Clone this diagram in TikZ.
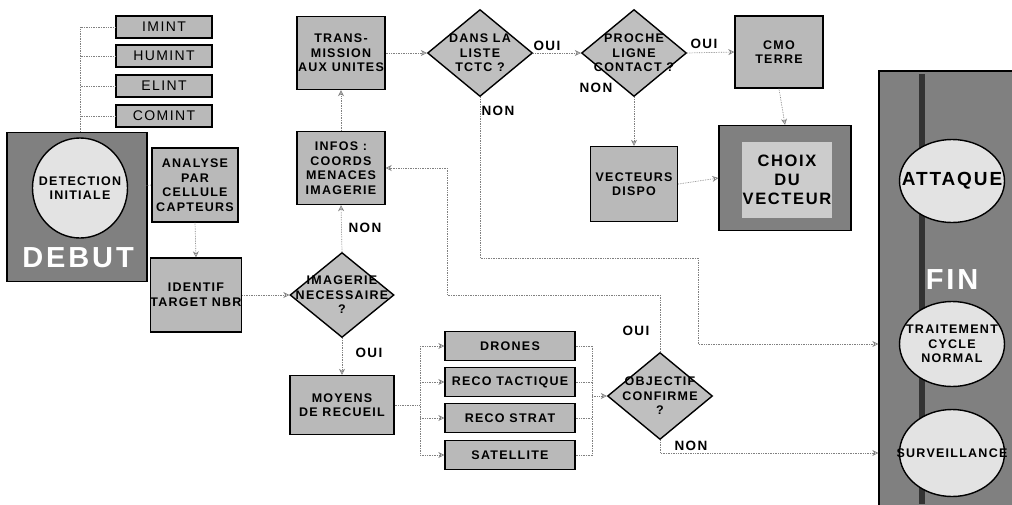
\documentclass[tikz,border=0pt]{standalone}
\usepackage{fontspec}
\setmainfont{Liberation Sans}[LetterSpace=10]
\usetikzlibrary{shapes.geometric,arrows.meta}

\newcommand{\boxfont}{\bfseries\fontsize{12.5}{14.5}\selectfont}
\newcommand{\answerfont}{\bfseries\fontsize{13.5}{15}\selectfont}

\tikzset{
  box/.style={draw, line width=1.4pt, fill=gray!55, align=center, inner sep=0pt, font=\boxfont},
  sensor/.style={box, minimum width=96pt, minimum height=22pt, font=\fontsize{14}{15}\selectfont},
  recueil/.style={box, minimum width=130pt, minimum height=29pt},
  decision/.style={diamond, draw, line width=1.4pt, fill=gray!50, inner sep=0pt, minimum width=105pt, minimum height=87pt},
  round/.style={ellipse, draw, line width=1.4pt, fill=gray!22, inner sep=0pt, minimum width=105pt},
  boxtext/.style={align=center, inner sep=0pt, font=\boxfont},
  darkbox/.style={draw, line width=1.4pt, fill=black!50, inner sep=0pt},
  bigtext/.style={white, font=\bfseries\fontsize{29}{30}\selectfont},
  answer/.style={font=\answerfont},
  link/.style={gray, densely dotted, line width=0.7pt},
  flow/.style={link, -{Stealth[open, length=6pt, width=6pt]}}
}

\begin{document}
\begin{tikzpicture}[x=1pt, y=-1pt]
\useasboundingbox (0,0) rectangle (1012,504);

% debut
\node[darkbox, minimum width=140pt, minimum height=149pt] (debut) at (77,207) {};
\node[round, minimum width=95pt, minimum height=100pt, label={[boxtext]center:DETECTION\\INITIALE}] (detect) at (80,188) {};
\node[bigtext] (debuttxt) at (78,258) {DEBUT};

\foreach \name/\txt/\y in {imint/IMINT/27, humint/HUMINT/56, elint/ELINT/86, comint/COMINT/116} {
  \node[sensor] (\name) at (164,\y) {\txt};
}

\node[box, minimum width=86pt, minimum height=74pt] (analyse) at (195,185) {ANALYSE\\PAR\\CELLULE\\CAPTEURS};
\node[box, minimum width=88pt, minimum height=74pt] (identif) at (196,295) {IDENTIF\\TARGET NBR};
\node[decision, minimum width=104pt, minimum height=85pt, label={[boxtext]center:IMAGERIE\\NECESSAIRE\\?}] (imagerie) at (342,295) {};
\node[box, minimum width=104pt, minimum height=59pt] (moyens) at (342,405) {MOYENS\\DE RECUEIL};

\foreach \name/\txt/\y in {drones/DRONES/346, tactique/RECO TACTIQUE/382, strat/RECO STRAT/418, satellite/SATELLITE/455} {
  \node[recueil] (\name) at (510,\y) {\txt};
}
\node[decision, label={[boxtext]center:OBJECTIF\\CONFIRME\\?}] (objectif) at (660,396) {};

\node[box, minimum width=88pt, minimum height=73pt] (trans) at (341,53) {TRANS-\\MISSION\\AUX UNITES};
\node[box, minimum width=88pt, minimum height=73pt] (infos) at (341,168) {INFOS :\\COORDS\\MENACES\\IMAGERIE};
\node[decision, label={[boxtext]center:DANS LA\\LISTE\\TCTC ?}] (dans) at (480,53) {};
\node[decision, label={[boxtext]center:PROCHE\\LIGNE\\CONTACT ?}] (proche) at (634,53) {};
\node[box, minimum width=88pt, minimum height=72pt] (cmo) at (779,52) {CMO\\TERRE};
\node[box, minimum width=87pt, minimum height=75pt] (vecteurs) at (634,184) {VECTEURS\\DISPO};
\node[darkbox, minimum width=132pt, minimum height=105pt] (choix) at (785,178) {};
\node[box, draw=none, fill=gray!40, minimum width=90pt, minimum height=76pt, font=\bfseries\fontsize{16.5}{19}\selectfont] (choixtxt) at (787,180) {CHOIX\\DU\\VECTEUR};

% fin
\node[darkbox, minimum width=140pt, minimum height=440pt] (fin) at (949,291) {};
\fill[black!80] (919,74) rectangle (925,504);
\node[round, minimum height=83pt, label={[boxtext, font=\bfseries\fontsize{19}{20}\selectfont]center:ATTAQUE}] (attaque) at (952,181) {};
\node[bigtext] (fintxt) at (952,280) {FIN};
\node[round, minimum height=85pt, label={[boxtext]center:TRAITEMENT\\CYCLE\\NORMAL}] (traitement) at (952,344) {};
\node[round, minimum height=87pt, label={[boxtext]center:SURVEILLANCE}] (surveil) at (952,453) {};

% liaisons
\draw[link] (imint.west) -| (detect.north);
\foreach \n in {humint,elint,comint} {
  \draw[link] (\n.west) -- (\n.west -| detect.north);
}
\draw[link] (detect.east) -- (analyse.west);
\draw[flow] (analyse.south) -- (identif.north);
\draw[flow] (identif.east) -- (imagerie.west);
\draw[flow] (imagerie.north) -- (infos.south);
\draw[flow] (imagerie.south) -- (moyens.north);
\draw[flow] (infos.north) -- (trans.south);
\draw[flow] (trans.east) -- (dans.west);
\draw[flow] (dans.east) -- (proche.west);
\draw[flow] (proche.east) -- (cmo.west);
\draw[flow] (proche.south) -- (vecteurs.north);
\draw[flow] (cmo.south) -- (choix.north);
\draw[flow] (vecteurs.east) -- (choix.west);

\coordinate (split) at (420,405);
\coordinate (join) at (592,396);
\draw[link] (moyens.east) -- (split);
\draw[link] (split |- drones.west) -- (split |- satellite.west);
\draw[link] (join |- drones.east) -- (join |- satellite.east);
\foreach \n in {drones,tactique,strat,satellite} {
  \draw[flow] (split |- \n.west) -- (\n.west);
  \draw[link] (\n.east) -- (join |- \n.east);
}
\draw[flow] (join) -- (objectif.west);

\coordinate (ouiturn) at (447,295);
\coordinate (nonturn) at (698,258);
\draw[flow] (objectif.north) |- (ouiturn) |- (infos.east);
\draw[flow] (dans.south) |- (nonturn) |- (fin.west |- traitement);
\draw[flow] (objectif.south) |- (fin.west |- surveil);

% reponses
\node[answer] (oui1) at (547,46) {OUI};
\node[answer] (non1) at (498,111) {NON};
\node[answer] (oui2) at (704,44) {OUI};
\node[answer] (non2) at (596,88) {NON};
\node[answer] (non3) at (365,228) {NON};
\node[answer] (oui3) at (369,353) {OUI};
\node[answer] (oui4) at (636,331) {OUI};
\node[answer] (non4) at (691,446) {NON};
\end{tikzpicture}
\end{document}
